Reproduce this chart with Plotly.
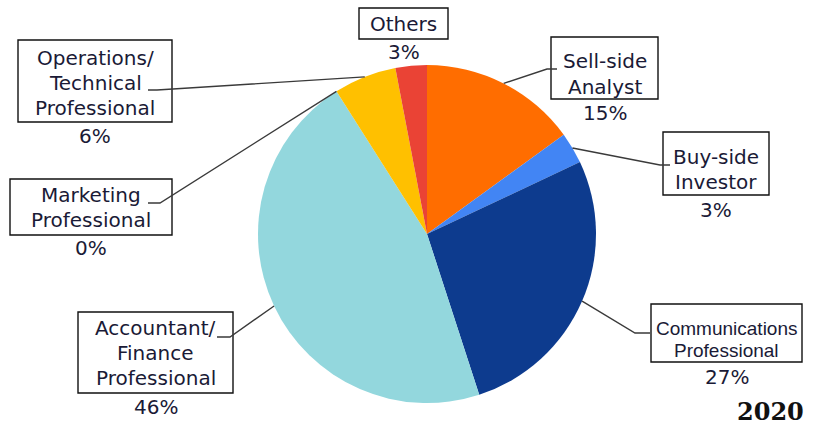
import numpy as np
import plotly.graph_objects as go

# Respondent profile, 2020
categories = ["Sell-side Analyst", "Buy-side Investor", "Communications Professional",
              "Accountant/ Finance Professional", "Marketing Professional",
              "Operations/ Technical Professional", "Others"]
values = [15, 3, 27, 46, 0, 6, 3]
label_lines = [["Sell-side", "Analyst"], ["Buy-side", "Investor"],
               ["Communications", "Professional"], ["Accountant/", "Finance", "Professional"],
               ["Marketing", "Professional"], ["Operations/", "Technical", "Professional"],
               ["Others"]]
colors = ["#FF6D00", "#4285F4", "#0D3B8E", "#93D7DD", "#B0B0B0", "#FFC000", "#EA4335"]
year_label = "2020"

W, H = 813, 428
CX, CY, R = 427, 234, 169          # pie centre and radius in pixels
TEXT = "#1a1a36"
LINE = "#3a3a3a"


def px(x):
    return x / W


def py(y):
    return 1 - y / H


# label box layout: (left, top, right, bottom), first line centre y, line pitch, font, size
boxes = [
    dict(box=(551, 37, 658, 99), y0=61, pitch=26, font="DejaVu Sans", size=20, pct_y=113,
         elbow=(547, 69), end=(557, 69)),
    dict(box=(663, 132, 769, 195), y0=157, pitch=25, font="DejaVu Sans", size=20, pct_y=210,
         elbow=(660, 165), end=(670, 165)),
    dict(box=(651, 304, 802, 362), y0=328, pitch=22, font="Liberation Sans", size=19, pct_y=377,
         elbow=(635, 333), end=(650, 333)),
    dict(box=(78, 312, 233, 393), y0=328, pitch=25, font="DejaVu Sans", size=20, pct_y=407,
         elbow=(230, 337), end=(217, 337)),
    dict(box=(10, 179, 172, 235), y0=195, pitch=25, font="DejaVu Sans", size=20, pct_y=248,
         elbow=(160, 203), end=(148, 203)),
    dict(box=(18, 40, 172, 122), y0=58, pitch=25, font="DejaVu Sans", size=20, pct_y=136,
         elbow=(157, 90), end=(148, 90)),
    dict(box=(359, 8, 448, 39), y0=24, pitch=25, font="DejaVu Sans", size=20, pct_y=52,
         elbow=None, end=None),
]

fig = go.Figure(go.Pie(
    labels=categories, values=values, sort=False, direction="clockwise", rotation=0,
    marker=dict(colors=colors, line=dict(width=0)),
    textinfo="none", hoverinfo="label+percent", showlegend=False,
    domain=dict(x=[px(CX - R), px(CX + R)], y=[py(CY + R), py(CY - R)]),
))

shapes = []
annotations = []
cum = np.cumsum([0] + values)
total = float(sum(values))
for i, spec in enumerate(boxes):
    l, t, r, b = spec["box"]
    shapes.append(dict(type="rect", xref="paper", yref="paper",
                       x0=px(l), x1=px(r), y0=py(b), y1=py(t),
                       line=dict(color="#111111", width=1.4), fillcolor="rgba(0,0,0,0)"))
    xc = (l + r) / 2
    for k, line in enumerate(label_lines[i]):
        annotations.append(dict(x=px(xc), y=py(spec["y0"] + k * spec["pitch"]),
                                xref="paper", yref="paper", text=line, showarrow=False,
                                xanchor="center", yanchor="middle",
                                font=dict(family=spec["font"], size=spec["size"], color=TEXT)))
    annotations.append(dict(x=px(xc), y=py(spec["pct_y"]), xref="paper", yref="paper",
                            text=f"{values[i]}%", showarrow=False,
                            xanchor="center", yanchor="middle",
                            font=dict(family="DejaVu Sans", size=20, color=TEXT)))
    if spec["elbow"] is not None:
        mid = (cum[i] + cum[i + 1]) / 2 / total * 2 * np.pi
        ex, ey = CX + R * np.sin(mid), CY - R * np.cos(mid)
        (bx, by), (fx, fy) = spec["elbow"], spec["end"]
        path = f"M {px(ex)},{py(ey)} L {px(bx)},{py(by)} L {px(fx)},{py(fy)}"
        shapes.append(dict(type="path", xref="paper", yref="paper", path=path,
                           line=dict(color=LINE, width=1.4)))

annotations.append(dict(x=px(770), y=py(411), xref="paper", yref="paper", text=f"<b>{year_label}</b>",
                        showarrow=False, xanchor="center", yanchor="middle",
                        font=dict(family="DejaVu Serif", size=24, color="#111111")))

fig.update_layout(width=W, height=H, margin=dict(l=0, r=0, t=0, b=0),
                  paper_bgcolor="white", plot_bgcolor="white",
                  shapes=shapes, annotations=annotations)

fig.write_html("out.html")
